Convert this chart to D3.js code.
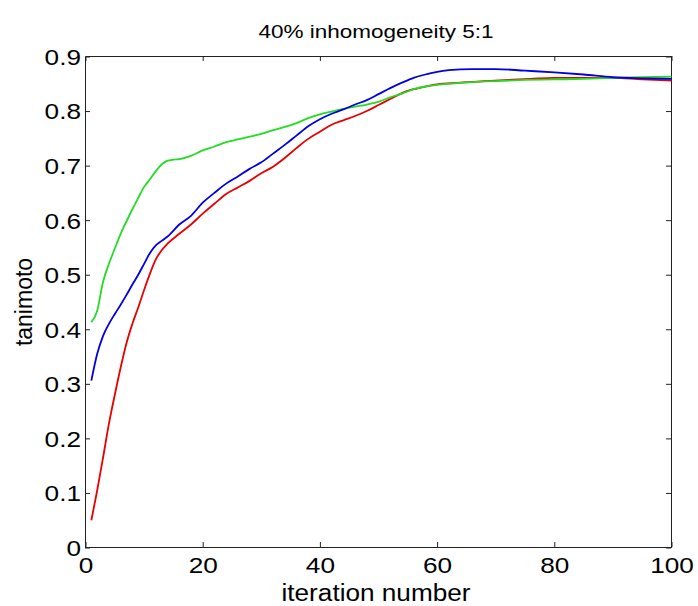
<!DOCTYPE html>
<html lang="en">
<head>
<meta charset="utf-8">
<title>40% inhomogeneity 5:1</title>
<style>
  body { margin: 0; background: #fff; }
  svg text { font-family: "Liberation Sans", Arial, sans-serif; fill: #000; }
</style>
</head>
<body>
<div id="chart"></div>
<script src="https://d3js.org/d3.v7.min.js"></script>
<script>
// Values
const iterRed = [1, 2, 3, 4, 5, 6, 7, 8, 9, 10, 11, 12, 13, 14, 16, 18, 20, 22, 24, 26, 28, 30, 32, 34, 36, 38, 40, 42, 44, 46, 48, 50, 52, 54, 56, 58, 60, 64, 68, 72, 76, 80, 85, 90, 95, 100];
const red = [0.05, 0.105, 0.165, 0.227, 0.28, 0.33, 0.375, 0.41, 0.44, 0.472, 0.502, 0.528, 0.545, 0.557, 0.575, 0.592, 0.612, 0.63, 0.648, 0.66, 0.672, 0.686, 0.698, 0.714, 0.732, 0.749, 0.762, 0.775, 0.783, 0.791, 0.8, 0.811, 0.822, 0.833, 0.84, 0.845, 0.849, 0.852, 0.855, 0.857, 0.859, 0.861, 0.861, 0.861, 0.858, 0.856];

const iterBlue = [1, 2, 3, 4, 5, 6, 7, 8, 9, 10, 11, 12, 13, 14, 16, 18, 20, 22, 24, 26, 28, 30, 32, 34, 36, 38, 40, 42, 44, 46, 48, 50, 52, 54, 56, 58, 60, 62, 66, 70, 75, 80, 85, 90, 95, 100];
const blue = [0.306, 0.355, 0.388, 0.41, 0.428, 0.445, 0.463, 0.482, 0.5, 0.52, 0.54, 0.554, 0.562, 0.57, 0.592, 0.608, 0.632, 0.65, 0.667, 0.68, 0.694, 0.706, 0.722, 0.738, 0.755, 0.772, 0.785, 0.795, 0.803, 0.812, 0.82, 0.831, 0.842, 0.852, 0.861, 0.867, 0.872, 0.875, 0.877, 0.877, 0.874, 0.871, 0.867, 0.862, 0.86, 0.859];

const iterGreen = [1, 2, 3, 4, 5, 6, 7, 8, 9, 10, 11, 12, 13, 14, 15, 16, 18, 20, 22, 24, 26, 28, 30, 32, 34, 36, 38, 40, 42, 44, 46, 48, 50, 52, 54, 56, 58, 60, 62, 66, 70, 75, 80, 85, 90, 95, 100];
const green = [0.413, 0.434, 0.487, 0.52, 0.548, 0.575, 0.598, 0.62, 0.641, 0.661, 0.675, 0.69, 0.702, 0.709, 0.711, 0.712, 0.718, 0.728, 0.735, 0.743, 0.748, 0.753, 0.758, 0.765, 0.771, 0.778, 0.787, 0.794, 0.799, 0.804, 0.808, 0.812, 0.817, 0.825, 0.832, 0.84, 0.845, 0.848, 0.85, 0.853, 0.855, 0.857, 0.858, 0.859, 0.861, 0.862, 0.863];

const xTicks = [0, 20, 40, 60, 80, 100];
const yTicks = [0, 0.1, 0.2, 0.3, 0.4, 0.5, 0.6, 0.7, 0.8, 0.9];

const titleText = "40% inhomogeneity 5:1";
const xLabel = "iteration number";
const yLabel = "tanimoto";

// Set up the SVG dimensions
var margin = { top: 56, right: 27, bottom: 59, left: 85 },
    width = 698 - margin.left - margin.right,
    height = 606 - margin.top - margin.bottom;

const svgRoot = d3.select("#chart")
  .append("svg")
  .attr("width", width + margin.left + margin.right)
  .attr("height", height + margin.top + margin.bottom);

const svg = svgRoot.append("g")
  .attr("transform", `translate(${margin.left},${margin.top})`);

const x = d3.scaleLinear().domain([0, 100]).range([0.5, width + 0.5]);
const y = d3.scaleLinear().domain([0, 0.9]).range([height + 0.5, 0.5]);

// Box axes with inward ticks (MATLAB style)
svg.append("g")
  .attr("class", "axis")
  .attr("transform", `translate(0,${height})`)
  .call(d3.axisBottom(x).tickValues(xTicks).tickSizeInner(-5).tickSizeOuter(0).tickPadding(10))
  .selectAll("text")
  .style("font-size", "22px")
  .attr("transform", "scale(1.19,1)");

svg.append("g")
  .attr("class", "axis")
  .call(d3.axisLeft(y).tickValues(yTicks).tickSizeInner(-5).tickSizeOuter(0).tickPadding(4)
    .tickFormat(d => d === 0 ? "0" : d.toFixed(1)))
  .selectAll("text")
  .style("font-size", "22px")
  .attr("x", 0)
  .attr("dy", "0.36em")
  .attr("transform", "translate(-4,0) scale(1.19,1)");

svg.append("g")
  .attr("class", "axis")
  .call(d3.axisTop(x).tickValues(xTicks).tickSizeInner(-5).tickSizeOuter(0).tickFormat(""));

svg.append("g")
  .attr("class", "axis")
  .attr("transform", `translate(${width},0)`)
  .call(d3.axisRight(y).tickValues(yTicks).tickSizeInner(-5).tickSizeOuter(0).tickFormat(""));

svg.selectAll(".axis path, .axis line")
  .attr("stroke", "#222")
  .attr("stroke-width", 1);

// Lines
const series = [
  { xs: iterRed, ys: red, color: "#e80000" },
  { xs: iterBlue, ys: blue, color: "#0000e0" },
  { xs: iterGreen, ys: green, color: "#22dd22" }
];

const line = d3.line()
  .x(d => x(d[0]))
  .y(d => y(d[1]))
  .curve(d3.curveMonotoneX);

// draw order: green under, then red, then blue... reference shows blue and green on top of red mostly
[series[0], series[2], series[1]].forEach(s => {
  svg.append("path")
    .datum(s.xs.map((v, i) => [v, s.ys[i]]))
    .attr("fill", "none")
    .attr("stroke", s.color)
    .attr("stroke-width", 1.8)
    .attr("stroke-linejoin", "round")
    .attr("d", line);
});

// Title and labels
svgRoot.append("text")
  .attr("x", 376)
  .attr("y", 38)
  .attr("text-anchor", "middle")
  .style("font-size", "19px")
  .attr("textLength", 235)
  .attr("lengthAdjust", "spacingAndGlyphs")
  .text(titleText);

svgRoot.append("text")
  .attr("x", 376)
  .attr("y", 601)
  .attr("text-anchor", "middle")
  .style("font-size", "23px")
  .attr("textLength", 189)
  .attr("lengthAdjust", "spacingAndGlyphs")
  .text(xLabel);

svgRoot.append("text")
  .attr("transform", "translate(32,302) rotate(-90)")
  .attr("text-anchor", "middle")
  .style("font-size", "23px")
  .text(yLabel);
</script>
</body>
</html>
